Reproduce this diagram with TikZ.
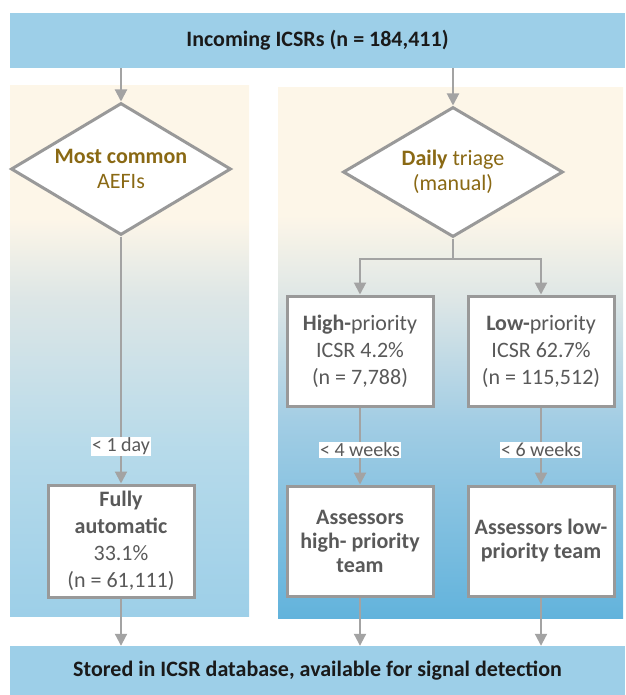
\documentclass[tikz,border=0pt]{standalone}
\usepackage{fontspec}
\setmainfont{Carlito}
\usetikzlibrary{shapes.geometric,arrows.meta,positioning}

\definecolor{bannerblue}{HTML}{9DCFE8}
\definecolor{bannertext}{HTML}{1A1A1A}
\definecolor{boxgray}{HTML}{999999}
\definecolor{linegray}{HTML}{A3A3A3}
\definecolor{boxtext}{HTML}{595959}
\definecolor{goldtext}{HTML}{8A6914}
\definecolor{panelcream}{HTML}{FDF6E8}
\definecolor{panelmid}{HTML}{DDE6E6}
\definecolor{leftlow}{HTML}{B6DAEA}
\definecolor{leftbot}{HTML}{9DCFE8}
\definecolor{rightlow}{HTML}{A2CDE4}
\definecolor{rightbot}{HTML}{62B3DC}

% the path is mapped onto 25bp..75bp of the shading
\pgfdeclareverticalshading{leftpanel}{100bp}{color(0bp)=(leftbot); color(25bp)=(leftbot); color(40.5bp)=(leftlow); color(55bp)=(panelmid); color(62.5bp)=(panelcream); color(100bp)=(panelcream)}
\pgfdeclareverticalshading{rightpanel}{100bp}{color(0bp)=(rightbot); color(25bp)=(rightbot); color(43.5bp)=(rightlow); color(55bp)=(panelmid); color(63bp)=(panelcream); color(100bp)=(panelcream)}

\begin{document}
\begin{tikzpicture}[x=1pt, y=-1pt, >={Triangle[width=12pt,length=12pt]},
    banner/.style={fill=bannerblue, minimum width=615pt, text=bannertext,
        font=\fontsize{22}{26}\selectfont\bfseries},
    decision/.style={diamond, draw=boxgray, line width=3pt, fill=white, aspect=1.67,
        inner sep=0pt, minimum width=220pt, minimum height=132pt, align=center,
        text=goldtext, font=\fontsize{22}{25}\selectfont},
    outcome/.style={draw=boxgray, line width=3pt, fill=white, minimum width=146pt,
        minimum height=110pt, inner sep=2pt, align=center, text=boxtext,
        font=\fontsize{22}{27}\selectfont},
    team/.style={outcome, font=\fontsize{22}{24}\selectfont\bfseries},
    flow/.style={draw=linegray, line width=2pt, ->},
    timing/.style={fill=white, inner sep=1pt, text=boxtext,
        font=\fontsize{20}{22}\selectfont}]
\useasboundingbox (0,0) rectangle (625,695);

% background panels
\shade[shading=leftpanel] (10,86) rectangle (249,616);
\shade[shading=rightpanel] (278,88) rectangle (623,618);

% top and bottom banners
\node[banner, minimum height=55pt] (incoming) at (317.5,40.5) {Incoming ICSRs (n = 184,411)};
\node[banner, minimum height=50pt] (stored) at (317.5,671) {Stored in ICSR database, available for signal detection};

% decisions
\node[decision] (common) at (121,169) {\textbf{Most common}\\AEFIs};
\node[decision, minimum height=130pt] (triage) at (453,172) {\textbf{Daily} triage\\(manual)};

% outcome boxes
\node[outcome, minimum height=112pt] (automatic) at (121,541) {\textbf{Fully}\\\textbf{automatic}\\33.1\%\\(n = 61,111)};
\node[outcome] (highprio) at (360,351) {\textbf{High-}priority\\ICSR 4.2\%\\(n = 7,788)};
\node[outcome] (lowprio) at (541,351) {\textbf{Low-}priority\\ICSR 62.7\%\\(n = 115,512)};
\node[team] (highteam) at (360,541) {Assessors\\high- priority\\team};
\node[team] (lowteam) at (541,541) {Assessors low-\\priority team};

% connectors
\draw[flow] (incoming.south -| common.north) -- (common.north);
\draw[flow] (incoming.south -| triage.north) -- (triage.north);
\draw[flow] (common.south) -- node[timing, pos=0.85] {< 1 day} (automatic.north);
\draw[flow] (triage.south) -- ++(0,20) -| (highprio.north);
\draw[flow] (triage.south) -- ++(0,20) -| (lowprio.north);
\draw[flow] (highprio.south) -- node[timing, pos=0.55] {< 4 weeks} (highteam.north);
\draw[flow] (lowprio.south) -- node[timing, pos=0.55] {< 6 weeks} (lowteam.north);
\foreach \src in {automatic, highteam, lowteam}
    \draw[flow] (\src.south) -- (\src.south |- stored.north);
\end{tikzpicture}
\end{document}
